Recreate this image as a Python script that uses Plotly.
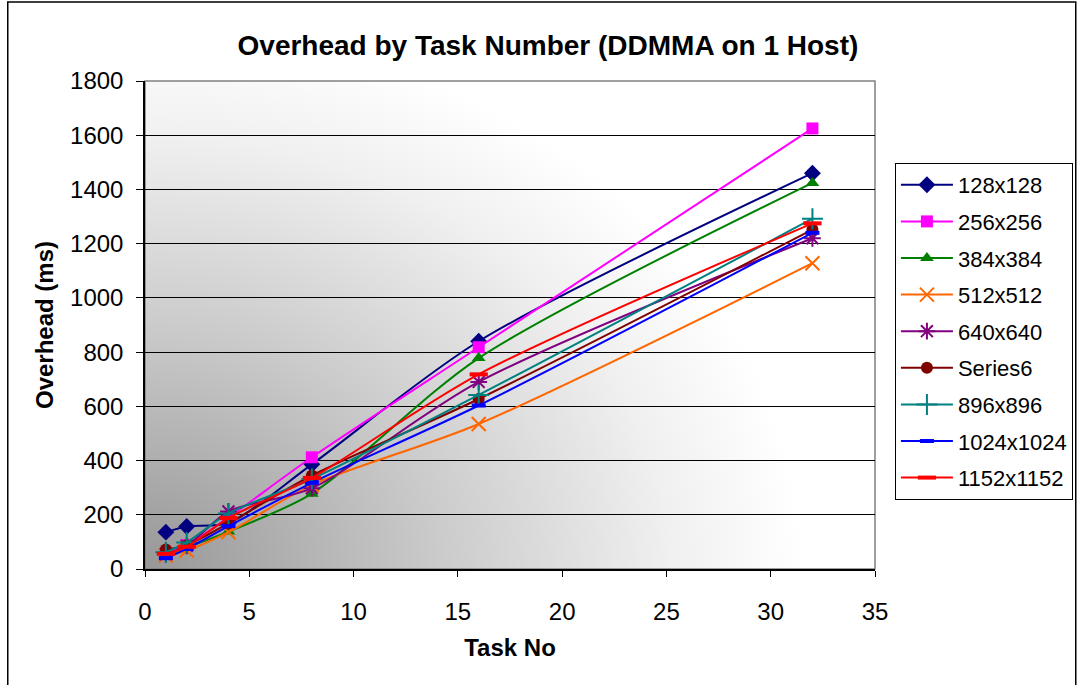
import base64
import plotly.graph_objects as go

tasks = [1, 2, 4, 8, 16, 32]
s128 = [136, 157, 170, 386, 840, 1460]
s256 = [58, 88, 190, 412, 818, 1625]
s384 = [55, 80, 138, 278, 778, 1424]
s512 = [50, 68, 136, 310, 535, 1128]
s640 = [55, 85, 212, 298, 690, 1220]
series6 = [72, 88, 168, 345, 627, 1252]
s896 = [62, 98, 205, 332, 642, 1292]
s1024 = [40, 74, 158, 318, 603, 1240]
s1152 = [56, 82, 188, 336, 718, 1275]

names = ["128x128", "256x256", "384x384", "512x512", "640x640",
         "Series6", "896x896", "1024x1024", "1152x1152"]
values = [s128, s256, s384, s512, s640, series6, s896, s1024, s1152]
colors = ["#000080", "#FF00FF", "#008000", "#FF6600", "#800080",
          "#800000", "#008080", "#0000FF", "#FF0000"]
symbols = ["diamond", "square", "triangle-up", "x-thin-open", "asterisk-open",
           "circle", "cross-thin-open", "line-ew-open", "line-ew-open"]
msizes = [13, 12, 12, 14, 14, 12, 15, 10, 13]
mlw = [0, 0, 0, 2, 2, 0, 2, 4, 4]

fig = go.Figure()
for n, v, c, s, ms, lw in zip(names, values, colors, symbols, msizes, mlw):
    fig.add_trace(go.Scatter(
        x=tasks, y=v, name=n, mode="lines+markers", legendgroup=n,
        line=dict(color=c, width=2, shape="spline", smoothing=0.8),
        marker=dict(symbol=s, size=ms, color=c, line=dict(color=c, width=lw)),
    ))

# gradient background for plot area
W, H = 733, 488
svg = f'''<svg xmlns="http://www.w3.org/2000/svg" width="{W}" height="{H}" viewBox="0 0 {W} {H}" preserveAspectRatio="none">
<defs><radialGradient id="g" gradientUnits="userSpaceOnUse" cx="0" cy="{H}" r="660"
 gradientTransform="translate(0 {H}) scale(1 0.82) translate(0 -{H})">
<stop offset="0" stop-color="#979797"/><stop offset="0.45" stop-color="#cbcbcb"/>
<stop offset="0.8" stop-color="#f0f0f0"/><stop offset="1" stop-color="#ffffff"/></radialGradient></defs>
<rect x="0" y="0" width="{W}" height="{H}" fill="url(#g)"/></svg>'''
uri = "data:image/svg+xml;base64," + base64.b64encode(svg.encode()).decode()

fig.add_layout_image(dict(source=uri, xref="paper", yref="paper", x=0, y=1,
                          sizex=1, sizey=1, sizing="stretch", xanchor="left",
                          yanchor="top", layer="below"))

font = "Liberation Sans, Arial, sans-serif"
fig.update_layout(
    width=1085, height=685,
    margin=dict(l=145, r=207, t=81, b=116),
    paper_bgcolor="white", plot_bgcolor="rgba(0,0,0,0)",
    font=dict(family=font, color="black", size=24),
    title=dict(text="<b>Overhead by Task Number (DDMMA on 1 Host)</b>",
               x=0.505, xanchor="center", y=0.934, yanchor="middle",
               font=dict(size=28)),
    showlegend=True,
    legend=dict(x=(898 - 145) / 733, xref="paper",
                y=(569 - 163) / 488, yref="paper", yanchor="top",
                bgcolor="white", bordercolor="black", borderwidth=1,
                font=dict(size=22), tracegroupgap=5, itemwidth=52),
    shapes=[
        dict(type="rect", xref="paper", yref="paper", x0=0, x1=1, y0=0, y1=1,
             line=dict(color="#808080", width=1.5), layer="below"),
        dict(type="rect", xref="paper", yref="paper", x0=-0.188, x1=1.275,
             y0=-0.4, y1=1.162, line=dict(color="black", width=1.5)),
    ],
)

fig.update_xaxes(range=[0, 35], dtick=5, showgrid=False, zeroline=False,
                 showline=True, linecolor="black", linewidth=1.5,
                 ticks="outside", ticklen=6, tickcolor="black",
                 ticklabelstandoff=14,
                 title=dict(text="<b>Task No</b>", standoff=16, font=dict(size=24)))
fig.update_yaxes(range=[0, 1800], dtick=200, showgrid=True, gridcolor="black",
                 gridwidth=1, zeroline=False, showline=True, linecolor="black",
                 linewidth=1.5, ticks="outside", ticklen=7, tickcolor="black",
                 ticklabelstandoff=8,
                 title=dict(text="<b>Overhead (ms)</b>", standoff=10, font=dict(size=24)))

fig.write_html("out.html")
